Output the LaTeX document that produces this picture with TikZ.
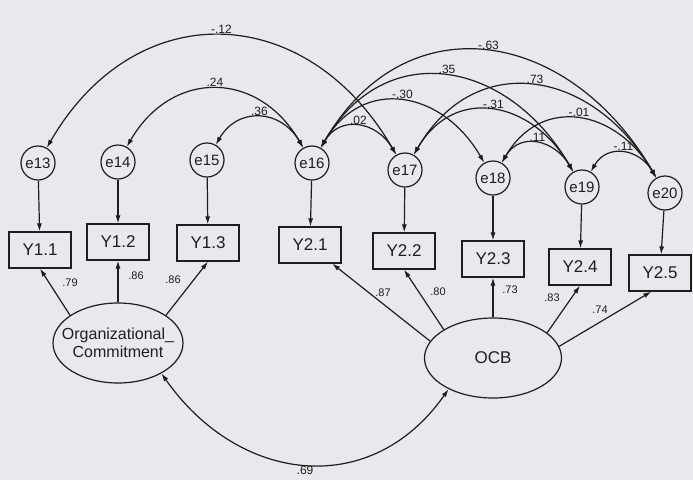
\documentclass[tikz,border=0pt]{standalone}
\usepackage{fontspec}
\setmainfont{Liberation Sans}
\usetikzlibrary{arrows.meta,shapes.geometric}
\definecolor{paper}{HTML}{E8E8ED}
\definecolor{ink}{HTML}{1E1E1E}

\begin{document}
\begin{tikzpicture}[x=1pt,y=1pt,>={Latex[length=8pt,width=5pt]},
  err/.style={circle,draw=ink,line width=1.2pt,minimum size=34pt,inner sep=0pt,text=ink,font=\fontsize{15}{15}\selectfont},
  obs/.style={rectangle,draw=ink,line width=1.2pt,minimum width=62pt,minimum height=36pt,inner sep=0pt,text=ink,font=\fontsize{17}{17}\selectfont},
  latent/.style={ellipse,draw=ink,line width=1.2pt,inner sep=0pt,text=ink},
  load/.style={->,draw=ink,line width=1.2pt},
  cov/.style={<->,draw=ink,line width=1.2pt,out=60,in=120,looseness=1.3},
  cvl/.style={midway,above,inner sep=1.5pt,text=ink,font=\fontsize{12}{12}\selectfont},
  ldl/.style={inner sep=0pt,text=ink,font=\fontsize{11}{11}\selectfont}]
\useasboundingbox (0,0) rectangle (693,-480);
\fill[paper] (0,0) rectangle (693,-480);
% error terms and indicators
\foreach \n/\x/\y in {13/38/163,14/118/162,15/207/160,16/312/163,17/405/170,18/493/178,19/582/187,20/665/193}
  {\node[err] (e\n) at (\x,-\y) {e\n};}
\foreach \n/\t/\x/\y in {11/Y1.1/40/250,12/Y1.2/118/242,13/Y1.3/208/243,21/Y2.1/310/245,22/Y2.2/404/251,23/Y2.3/493/259,24/Y2.4/580/267,25/Y2.5/660/273}
  {\node[obs] (Y\n) at (\x,-\y) {\t};}
\foreach \e/\y in {13/11,14/12,15/13,16/21,17/22,18/23,19/24,20/25}
  {\draw[load] (e\e) -- (Y\y);}
% latent variables
\node[latent,minimum width=130pt,minimum height=80pt,
  label={[align=center,text=ink,font=\fontsize{16}{18}\selectfont]center:Organizational\_\\Commitment}] (OC) at (118,-343) {};
\node[latent,minimum width=137pt,minimum height=80pt,font=\fontsize{17}{17}\selectfont] (OCB) at (493,-358) {OCB};
\draw[load] (OC.150) -- (Y11.south);
\draw[load] (OC.north) -- (Y12.south);
\draw[load] (OC.30) -- (Y13.south);
\draw[load] (OCB.165) -- (Y21.-40);
\draw[load] (OCB.150) -- (Y22.south);
\draw[load] (OCB.north) -- (Y23.south);
\draw[load] (OCB.25) -- (Y24.south);
\draw[load] (OCB.10) -- (Y25.-115);
\foreach \x/\y/\v [count=\i] in {70/283/.79,136/276/.86,173/280/.86,383/293/.87,438/292/.80,510/290/.73,552/298/.83,600/310/.74}
  {\node[ldl] (w\i) at (\x,-\y) {\v};}
% covariances
\foreach \a/\b/\v in {13/17/-.12,14/16/.24,15/16/.36,16/17/.02,16/18/-.30,16/19/.35,16/20/-.63,17/19/-.31,17/20/.73,18/19/.11,18/20/-.01,19/20/-.11}
  {\draw[cov] (e\a) to node[cvl] (c\a\b) {\v} (e\b);}
\draw[cov,out=-55,in=-125,looseness=1.2] (OC.-35) to node[cvl,below] (c0) {.69} (OCB.-145);
\end{tikzpicture}
\end{document}
